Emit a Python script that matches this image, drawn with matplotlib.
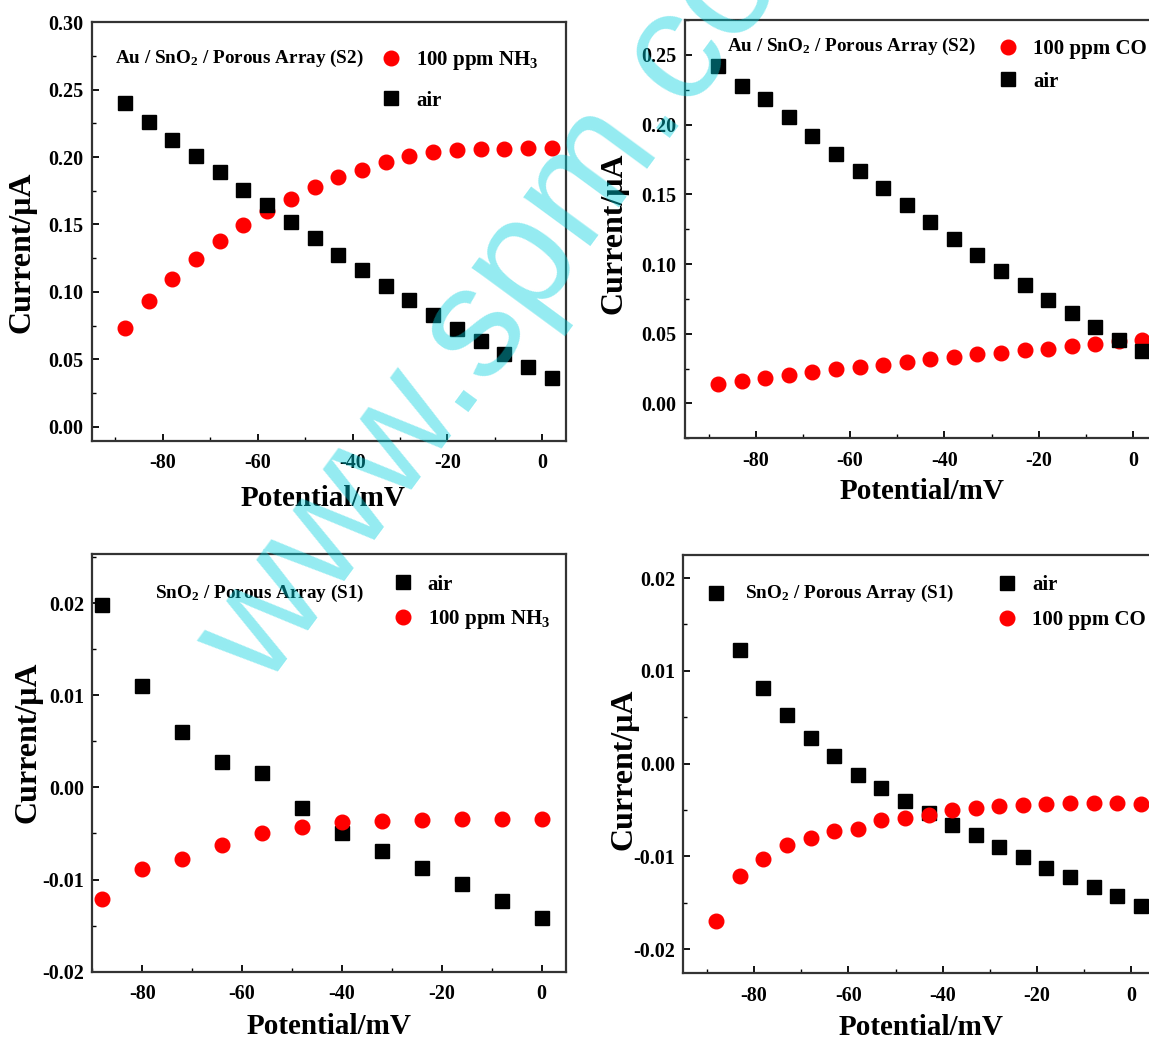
import matplotlib
matplotlib.use("Agg")
import matplotlib.pyplot as plt
from matplotlib.ticker import MultipleLocator, FormatStrFormatter

plt.rcParams['font.family'] = ['Liberation Serif', 'DejaVu Serif']
plt.rcParams['font.weight'] = 'bold'
plt.rcParams['mathtext.fontset'] = 'custom'
plt.rcParams['mathtext.rm'] = 'Liberation Serif:bold'
plt.rcParams['mathtext.it'] = 'Liberation Serif:bold'
plt.rcParams['mathtext.bf'] = 'Liberation Serif:bold'
plt.rcParams['axes.unicode_minus'] = False

# ---------------- data ----------------
x_s2 = [-88, -83, -78, -73, -68, -63, -58, -53, -48, -43, -38, -33, -28, -23, -18, -13, -8, -3, 2]

s2_nh3_air = [0.240, 0.226, 0.213, 0.2005, 0.1886, 0.1757, 0.1646, 0.1517, 0.1396, 0.1275,
              0.1163, 0.1047, 0.0936, 0.0829, 0.0723, 0.0639, 0.0540, 0.0446, 0.0364]
s2_nh3_gas = [0.073, 0.0933, 0.1097, 0.1243, 0.1379, 0.1495, 0.1597, 0.1690, 0.1775, 0.1851,
              0.1906, 0.1963, 0.2005, 0.2034, 0.2054, 0.2062, 0.2062, 0.2064, 0.2064]

s2_co_air = [0.2421, 0.2278, 0.2183, 0.2051, 0.1920, 0.1791, 0.1669, 0.1545, 0.1421, 0.1301,
             0.1182, 0.1065, 0.0953, 0.0848, 0.0745, 0.0645, 0.0549, 0.0458, 0.0375]
s2_co_gas = [0.0136, 0.0160, 0.0179, 0.0201, 0.0224, 0.0244, 0.0260, 0.0279, 0.0296, 0.0315,
             0.0332, 0.0351, 0.0363, 0.0380, 0.0392, 0.0411, 0.0423, 0.0447, 0.0458]

x_s1_nh3 = [-88, -80, -72, -64, -56, -48, -40, -32, -24, -16, -8, 0]
s1_nh3_air = [0.0198, 0.0110, 0.0060, 0.0028, 0.0016, -0.0022, -0.0050, -0.0069, -0.0087,
              -0.0105, -0.0123, -0.0142]
s1_nh3_gas = [-0.0121, -0.0089, -0.0078, -0.0063, -0.0049, -0.0043, -0.0038, -0.0036,
              -0.0035, -0.0034, -0.0034, -0.0034]

x_s1_co = [-88, -83, -78, -73, -68, -63, -58, -53, -48, -43, -38, -33, -28, -23, -18, -13, -8, -3, 2]
s1_co_air = [0.0184, 0.0122, 0.0082, 0.0052, 0.0028, 0.0008, -0.0012, -0.0026, -0.0040, -0.0053,
             -0.0066, -0.0077, -0.0090, -0.0101, -0.0113, -0.0122, -0.0133, -0.0143, -0.0153]
s1_co_gas = [-0.0170, -0.0121, -0.0103, -0.0088, -0.0080, -0.0073, -0.0070, -0.0061, -0.0059,
             -0.0055, -0.0050, -0.0048, -0.0046, -0.0045, -0.0044, -0.0043, -0.0043, -0.0043, -0.0044]

label_air = 'air'
label_nh3 = '100 ppm NH$_3$'
label_co = '100 ppm CO'
title_s2 = 'Au / SnO$_2$ / Porous Array (S2)'
title_s1 = 'SnO$_2$ / Porous Array (S1)'
xlabel = 'Potential/mV'
ylabel = 'Current/\u03bcA'
watermark = 'www.spm.com.cn'

# ---------------- figure ----------------
fig = plt.figure(figsize=(11.49, 10.39), dpi=100)

RED = '#ff0000'
BLK = '#000000'
ms_sq = 9.8
ms_ci = 10.5


def style(ax, ylim, xlim, ymaj, yminor):
    ax.set_xlim(*xlim)
    ax.set_ylim(*ylim)
    ax.xaxis.set_major_locator(MultipleLocator(20))
    ax.xaxis.set_minor_locator(MultipleLocator(10))
    ax.yaxis.set_major_locator(MultipleLocator(ymaj))
    ax.yaxis.set_minor_locator(MultipleLocator(yminor))
    ax.xaxis.set_major_formatter(FormatStrFormatter('%d'))
    ax.yaxis.set_major_formatter(FormatStrFormatter('%.2f'))
    ax.tick_params(which='both', direction='in', top=False, right=False)
    ax.tick_params(which='major', length=5, width=1.3, labelsize=14.5, pad=9)
    ax.tick_params(axis='y', which='major', pad=6)
    ax.tick_params(which='minor', length=3, width=1.0)
    for sp in ax.spines.values():
        sp.set_linewidth(1.6)
        sp.set_color('#333333')
    for lab in ax.get_xticklabels() + ax.get_yticklabels():
        lab.set_fontweight('bold')
    ax.set_xlabel(xlabel, fontsize=21, fontweight='bold')
    ax.set_ylabel(ylabel, fontsize=23, fontweight='bold')


def leg(ax, handles, anchor, spacing):
    ax.legend(handles=handles, loc='upper left', bbox_to_anchor=anchor, frameon=False,
              borderpad=0, borderaxespad=0, handlelength=1.0, handletextpad=0.7,
              labelspacing=spacing, prop={'family': 'Liberation Serif', 'weight': 'bold', 'size': 15})


# Panel 1: Au/SnO2 NH3
ax1 = fig.add_axes([0.0798, 0.5756, 0.4128, 0.4036])
g1, = ax1.plot(x_s2, s2_nh3_gas, 'o', color=RED, ms=ms_ci, mec=RED, label=label_nh3)
a1, = ax1.plot(x_s2, s2_nh3_air, 's', color=BLK, ms=ms_sq, label=label_air)
style(ax1, (-0.0106, 0.3005), (-95, 5), 0.05, 0.025)
leg(ax1, [g1, a1], (0.609, 0.935), 0.9)
ax1.text(0.049, 0.913, title_s2, transform=ax1.transAxes, fontsize=13.8, fontweight='bold',
         ha='left', va='center')
ax1.yaxis.set_label_coords(-0.117, 0.45)
ax1.xaxis.set_label_coords(0.488, -0.105)

# Panel 2: Au/SnO2 CO
ax2 = fig.add_axes([0.5962, 0.5782, 0.4104, 0.4025])
g2, = ax2.plot(x_s2, s2_co_gas, 'o', color=RED, ms=ms_ci, mec=RED, label=label_co)
a2, = ax2.plot(x_s2, s2_co_air, 's', color=BLK, ms=ms_sq, label=label_air)
style(ax2, (-0.025, 0.275), (-95, 5), 0.05, 0.025)
leg(ax2, [g2, a2], (0.663, 0.955), 0.62)
ax2.text(0.089, 0.937, title_s2, transform=ax2.transAxes, fontsize=13.8, fontweight='bold',
         ha='left', va='center')
ax2.yaxis.set_label_coords(-0.119, 0.49)
ax2.xaxis.set_label_coords(0.503, -0.095)

# Panel 3: SnO2 NH3
ax3 = fig.add_axes([0.0803, 0.0648, 0.4123, 0.4017])
a3, = ax3.plot(x_s1_nh3, s1_nh3_air, 's', color=BLK, ms=ms_sq, label=label_air)
g3, = ax3.plot(x_s1_nh3, s1_nh3_gas, 'o', color=RED, ms=ms_ci, mec=RED, label=label_nh3)
style(ax3, (-0.02, 0.0253), (-90, 4.9), 0.01, 0.005)
leg(ax3, [a3, g3], (0.633, 0.951), 0.65)
ax3.text(0.132, 0.907, title_s1, transform=ax3.transAxes, fontsize=13.8, fontweight='bold',
         ha='left', va='center')
ax3.yaxis.set_label_coords(-0.104, 0.55)
ax3.xaxis.set_label_coords(0.5, -0.099)

# Panel 4: SnO2 CO
ax4 = fig.add_axes([0.5947, 0.0633, 0.4104, 0.4026])
a4, = ax4.plot(x_s1_co, s1_co_air, 's', color=BLK, ms=ms_sq, label=label_air)
g4, = ax4.plot(x_s1_co, s1_co_gas, 'o', color=RED, ms=ms_ci, mec=RED, label=label_co)
style(ax4, (-0.0226, 0.0225), (-95, 5), 0.01, 0.005)
leg(ax4, [a4, g4], (0.6645, 0.952), 0.74)
ax4.text(0.131, 0.909, title_s1, transform=ax4.transAxes, fontsize=13.8, fontweight='bold',
         ha='left', va='center')
ax4.yaxis.set_label_coords(-0.096, 0.488)
ax4.xaxis.set_label_coords(0.504, -0.098)

# watermark
fig.text(265 / 1149, 1 - 690 / 1039, watermark, rotation=53.7, rotation_mode='anchor',
         ha='left', va='baseline', fontsize=113, family='Liberation Sans', fontweight='normal',
         color=(0.0, 0.82, 0.87), alpha=0.42, zorder=20)

fig.savefig('out.png', dpi=100)
